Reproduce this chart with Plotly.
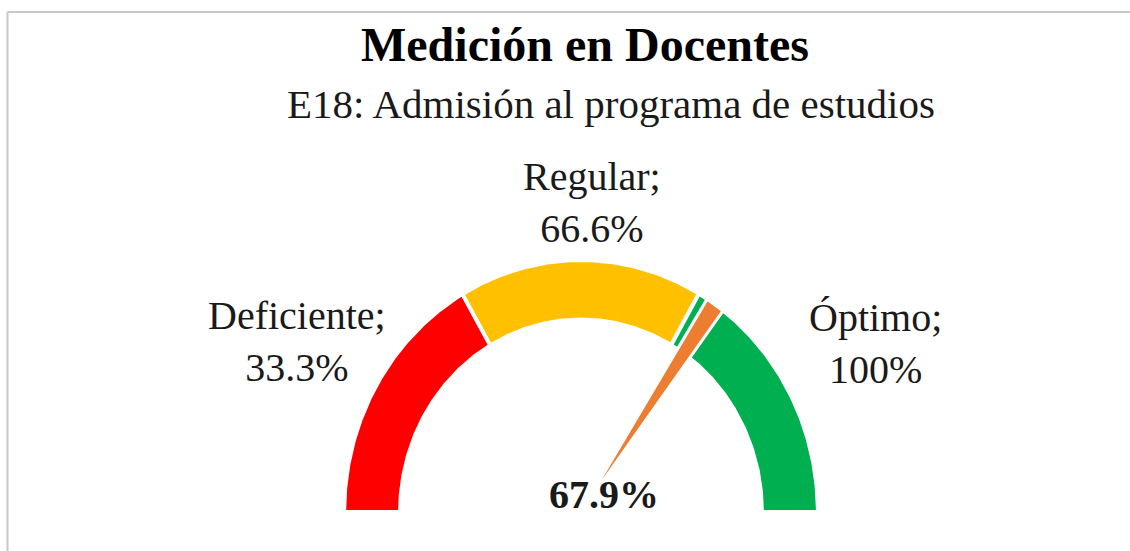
import numpy as np
import plotly.graph_objects as go

# ---- data ----
categories = ["Deficiente", "Regular", "Óptimo"]
upper_limits = [33.3, 66.6, 100.0]          # cumulative % limits of each band
band_colors = ["#FF0000", "#FFC000", "#00B050"]
value = 67.9                                  # measured value (%)
needle_width = 2.6                            # needle wedge size (% of scale)
needle_color = "#ED7D31"

title_text = "Medición en Docentes"
subtitle_text = "E18: Admisión al programa de estudios"

# ---- geometry helpers (unit radius, scale 0..100 mapped to 180..0 degrees) ----
R_OUT = 1.0
R_IN = 0.77
FONT = "Liberation Serif, Times New Roman, serif"


def ang(p):
    return np.pi * (1 - p / 100.0)


def band(p0, p1, r_in, r_out, n=240):
    t = np.linspace(ang(p0), ang(p1), n)
    xs = np.concatenate([r_out * np.cos(t), r_in * np.cos(t[::-1])])
    ys = np.concatenate([r_out * np.sin(t), r_in * np.sin(t[::-1])])
    return np.append(xs, xs[0]), np.append(ys, ys[0])


fig = go.Figure()

lower = [0.0] + upper_limits[:-1]
for cat, lo, hi, col in zip(categories, lower, upper_limits, band_colors):
    xs, ys = band(lo, hi, R_IN, R_OUT + 0.008)
    fig.add_trace(go.Scatter(x=xs, y=ys, mode="lines", fill="toself",
                             fillcolor=col, line=dict(color="white", width=4),
                             hoverinfo="skip", showlegend=False, name=cat))

# needle: pie wedge from the centre
t = np.linspace(ang(value), ang(value + needle_width), 40)
nx = np.concatenate([[0.0], (R_OUT + 0.006) * np.cos(t), [0.0]])
ny = np.concatenate([[0.0], (R_OUT + 0.006) * np.sin(t), [0.0]])
fig.add_trace(go.Scatter(x=nx, y=ny, mode="lines", fill="toself",
                         fillcolor=needle_color, line=dict(color="white", width=3),
                         hoverinfo="skip", showlegend=False, name="Aguja"))

# ---- data labels ----
label_shift = {"Deficiente": (-5, -1), "Regular": (12, -33), "Óptimo": (16, -3)}
LR = 1.37
for cat, lo, hi in zip(categories, lower, upper_limits):
    mid = ang((lo + hi) / 2)
    txt = f"{cat};<br>{hi:g}%" if hi < 100 else f"{cat};<br>{hi:.0f}%"
    dx, dy = label_shift[cat]
    fig.add_annotation(x=LR * np.cos(mid), y=LR * np.sin(mid), text=txt,
                       showarrow=False, xanchor="center", yanchor="middle",
                       xshift=dx, yshift=dy,
                       font=dict(family=FONT, size=40, color="#1a1a1a"))

fig.add_annotation(x=0, y=0.072, text=f"<b>{value:.1f}%</b>", showarrow=False,
                   xanchor="center", yanchor="middle", xshift=23,
                   font=dict(family=FONT, size=40, color="#1a1a1a"))

# ---- titles ----
fig.add_annotation(xref="paper", yref="paper", x=585 / 1130, y=1 - 45 / 551,
                   text=f"<b>{title_text}</b>", showarrow=False,
                   xanchor="center", yanchor="middle",
                   font=dict(family=FONT, size=48, color="#000000"))
fig.add_annotation(xref="paper", yref="paper", x=611 / 1130, y=1 - 104 / 551,
                   text=subtitle_text, showarrow=False,
                   xanchor="center", yanchor="middle",
                   font=dict(family=FONT, size=41, color="#1a1a1a"))

# ---- frame (chart-area border on top and left) ----
fig.add_shape(type="line", xref="paper", yref="paper", x0=7.5 / 1130, x1=1.0,
              y0=1 - 12 / 551, y1=1 - 12 / 551, line=dict(color="#C8C8C8", width=2))
fig.add_shape(type="line", xref="paper", yref="paper", x0=7.5 / 1130, x1=7.5 / 1130,
              y0=0, y1=1 - 12 / 551, line=dict(color="#C8C8C8", width=2))

cx, cy, rx, ry = 581, 512, 235, 250
fig.update_layout(
    width=1130, height=551, margin=dict(l=0, r=0, t=0, b=0),
    paper_bgcolor="white", plot_bgcolor="white",
    xaxis=dict(range=[-cx / rx, (1130 - cx) / rx], visible=False, fixedrange=True),
    yaxis=dict(range=[(cy - 551) / ry, cy / ry], visible=False, fixedrange=True),
    showlegend=False,
)

fig.write_html("out.html", config={"displayModeBar": False},
               post_script="document.body.style.margin='0';document.body.style.overflow='hidden';")
